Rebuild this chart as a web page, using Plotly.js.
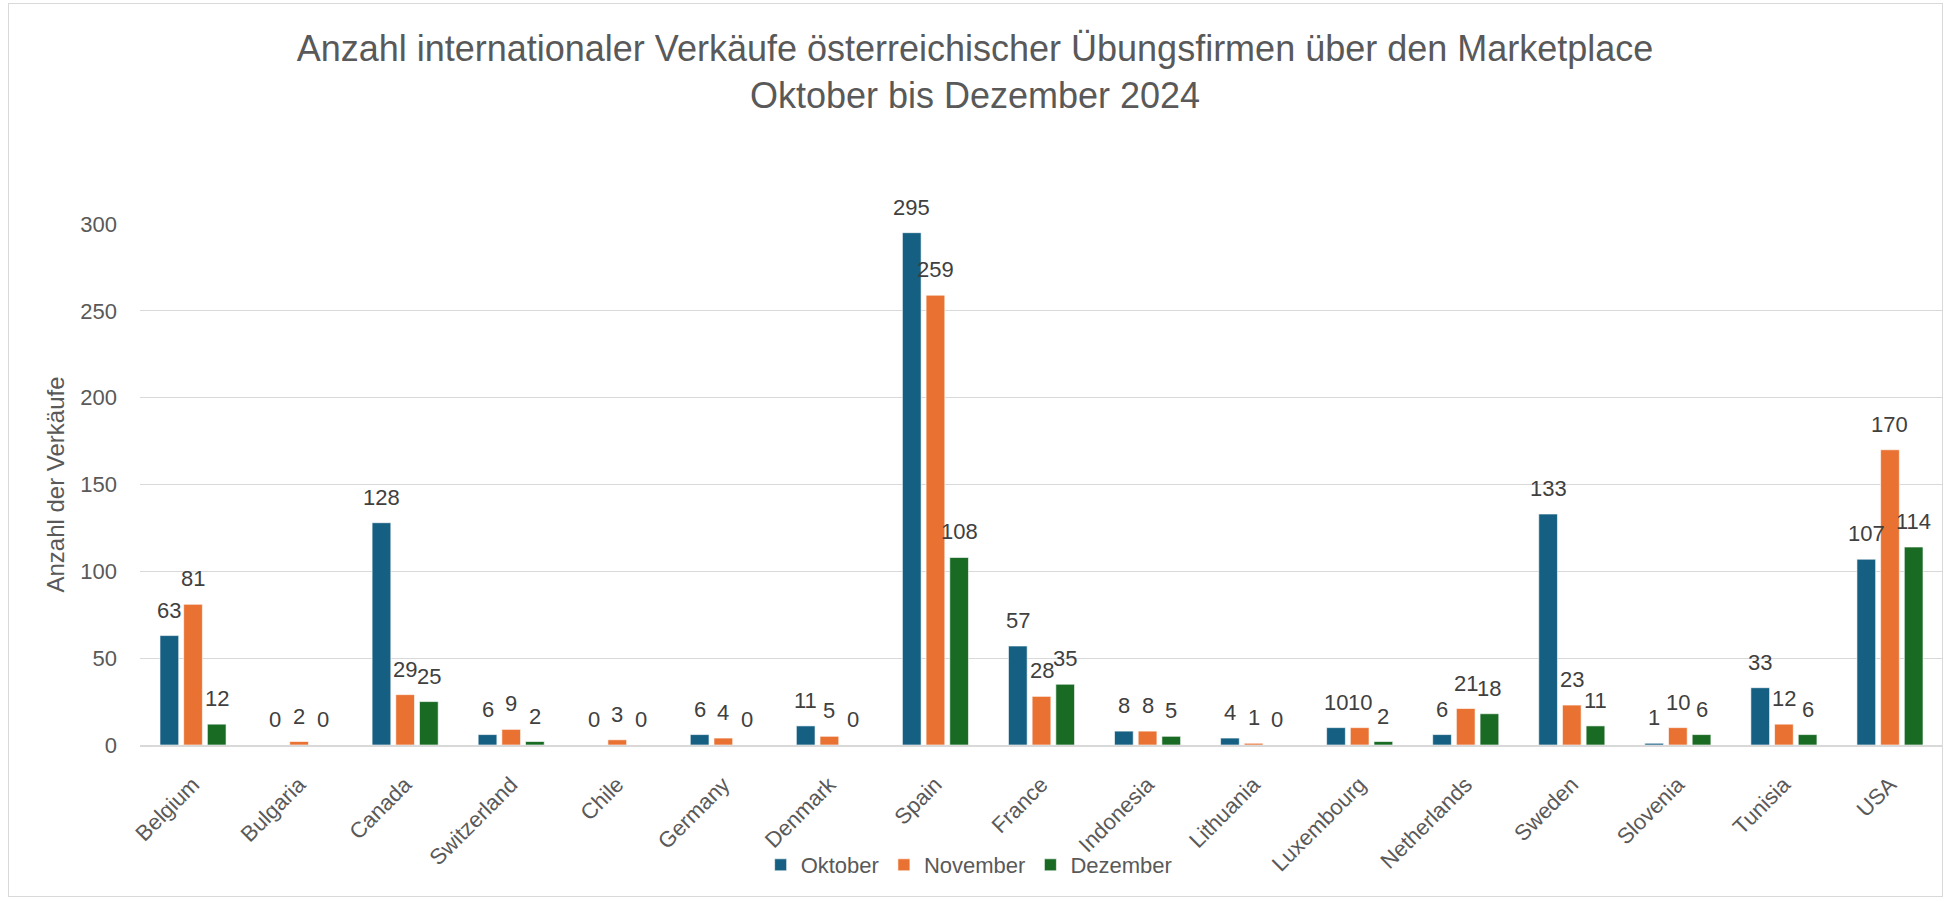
<!DOCTYPE html>
<html>
<head>
<meta charset="utf-8">
<script src="https://cdn.plot.ly/plotly-3.0.1.min.js"></script>
<style>
  html, body { margin: 0; padding: 0; background: #ffffff; }
  #wrap { position: relative; width: 1950px; height: 901px; }
  #chart { width: 1950px; height: 901px; }
  #frame { position: absolute; left: 8px; top: 3px; width: 1935px; height: 894px; border: 1px solid #d9d9d9; pointer-events: none; box-sizing: border-box; }
</style>
</head>
<body>
<div id="wrap">
  <div id="chart"></div>
  <div id="frame"></div>
</div>
<script>
const categories = ["Belgium", "Bulgaria", "Canada", "Switzerland", "Chile", "Germany", "Denmark", "Spain", "France", "Indonesia", "Lithuania", "Luxembourg", "Netherlands", "Sweden", "Slovenia", "Tunisia", "USA"];
const oktober  = [63, 0, 128, 6, 0, 6, 11, 295, 57, 8, 4, 10, 6, 133, 1, 33, 107];
const november = [81, 2, 29, 9, 3, 4, 5, 259, 28, 8, 1, 10, 21, 23, 10, 12, 170];
const dezember = [12, 0, 25, 2, 0, 0, 0, 108, 35, 5, 0, 2, 18, 11, 6, 6, 114];
const seriesNames = ["Oktober", "November", "Dezember"];
const yTicks = [0, 50, 100, 150, 200, 250, 300];

const colors = ["#156082", "#E97132", "#196B24"];
const allSeries = [oktober, november, dezember];
const FONT = "'Liberation Sans', Arial, sans-serif";

const W = 1950, H = 901;
const margin = {l: 140, r: 7, t: 224, b: 156, pad: 0};
const bargap = 0.33;
const plotW = W - margin.l - margin.r;
const slotPx = plotW / categories.length * (1 - bargap) / allSeries.length;

const traces = allSeries.map((vals, s) => ({
  type: "bar",
  name: seriesNames[s],
  x: categories,
  y: vals,
  marker: {color: colors[s], line: {color: "rgba(255,255,255,0.6)", width: 1}},
  hoverinfo: "x+y+name"
}));

const annotations = [];
allSeries.forEach((vals, s) => {
  vals.forEach((v, i) => {
    annotations.push({
      x: categories[i], y: v, xref: "x", yref: "y",
      text: String(v), showarrow: false,
      xanchor: "center", yanchor: "bottom",
      xshift: (s - (allSeries.length - 1) / 2) * slotPx,
      yshift: 11,
      font: {family: FONT, size: 22, color: "#404040"}
    });
  });
});

const layout = {
  width: W, height: H,
  margin: margin,
  paper_bgcolor: "#ffffff",
  plot_bgcolor: "#ffffff",
  barmode: "group",
  bargap: bargap,
  bargroupgap: 0.21,
  font: {family: FONT, color: "#595959", size: 22},
  title: {
    text: "Anzahl internationaler Verkäufe österreichischer Übungsfirmen über den Marketplace<br>Oktober bis Dezember 2024",
    font: {family: FONT, size: 36, color: "#595959"},
    x: 0.5, xref: "container", xanchor: "center",
    y: 1 - 61 / H, yref: "container", yanchor: "top"
  },
  xaxis: {
    type: "category",
    tickangle: -45,
    showgrid: false,
    showline: true, linecolor: "#d9d9d9", linewidth: 2,
    ticks: "",
    ticklabelstandoff: 16,
    tickfont: {family: FONT, size: 22, color: "#595959"},
    automargin: false,
    fixedrange: true
  },
  yaxis: {
    range: [0, 300],
    tickvals: yTicks,
    ticktext: yTicks.map(String),
    showgrid: true, gridcolor: "#d9d9d9", gridwidth: 1,
    zeroline: false,
    showline: false,
    ticks: "",
    ticklabelstandoff: 22,
    tickfont: {family: FONT, size: 22, color: "#595959"},
    title: {text: "Anzahl der Verkäufe", font: {family: FONT, size: 24, color: "#595959"}, standoff: 8},
    automargin: false,
    fixedrange: true
  },
  legend: {
    orientation: "h",
    xref: "container", yref: "container",
    x: 0.497, xanchor: "center",
    y: 1 - 865 / H, yanchor: "middle",
    bgcolor: "rgba(0,0,0,0)",
    font: {family: FONT, size: 22, color: "#595959"},
    traceorder: "normal",
    itemclick: false, itemdoubleclick: false
  },
  annotations: annotations,
  showlegend: true
};

Plotly.newPlot("chart", traces, layout, {displayModeBar: false, responsive: false});
</script>
</body>
</html>
